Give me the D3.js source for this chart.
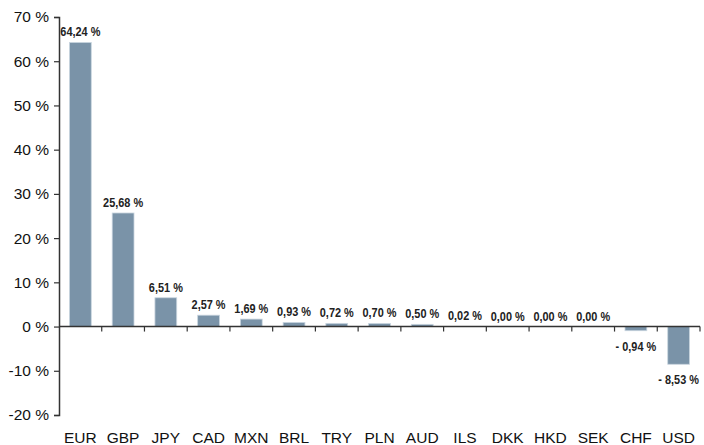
<!DOCTYPE html>
<html>
<head>
<meta charset="utf-8">
<script src="https://cdn.jsdelivr.net/npm/d3@7"></script>
<style>
  html, body { margin: 0; padding: 0; background: #fff; }
  svg { display: block; }
</style>
</head>
<body>
<svg id="chart" width="704" height="445"></svg>
<script>
// Currency contributions (%)
const currencies = ["EUR", "GBP", "JPY", "CAD", "MXN", "BRL", "TRY", "PLN", "AUD", "ILS", "DKK", "HKD", "SEK", "CHF", "USD"];
const shares = [64.24, 25.68, 6.51, 2.57, 1.69, 0.93, 0.72, 0.70, 0.50, 0.02, 0.00, 0.00, 0.00, -0.94, -8.53];
const yTicks = [-20, -10, 0, 10, 20, 30, 40, 50, 60, 70];

const svg = d3.select("#chart");
const margin = { left: 59, right: 4, top: 17, bottom: 30 };
const width = 704, height = 445;

const x = d3.scaleBand()
  .domain(currencies)
  .range([margin.left, width - margin.right])
  .paddingInner(0.49)
  .paddingOuter(0.245);

const y = d3.scaleLinear()
  .domain([-20, 70])
  .range([height - margin.bottom, margin.top]);

const fmt = v => {
  const s = Math.abs(v).toFixed(2).replace(".", ",") + " %";
  return v < 0 ? "- " + s : s;
};

const rows = currencies.map((c, i) => ({ c, v: shares[i] }));

// Bars
svg.append("g")
  .selectAll("rect")
  .data(rows)
  .join("rect")
  .attr("x", d => x(d.c))
  .attr("width", x.bandwidth())
  .attr("y", d => y(Math.max(0, d.v)))
  .attr("height", d => Math.abs(y(d.v) - y(0)))
  .attr("fill", "#7a93a8")
  .attr("stroke", "#c9d5df")
  .attr("stroke-width", 0.8);

// Value labels, horizontally condensed
svg.append("g")
  .selectAll("text")
  .data(rows)
  .join("text")
  .attr("transform", d => {
    const tx = x(d.c) + x.bandwidth() / 2;
    const ty = d.v < 0 ? y(d.v) + 20 : y(d.v) - 6;
    return `translate(${tx},${ty}) scale(0.84,1)`;
  })
  .attr("text-anchor", "middle")
  .attr("font-family", "'Liberation Sans', Arial, sans-serif")
  .attr("font-weight", "bold")
  .attr("font-size", 13)
  .attr("fill", "#222")
  .text(d => fmt(d.v));

// Y axis
const yAxis = d3.axisLeft(y)
  .tickValues(yTicks)
  .tickSize(5)
  .tickPadding(5)
  .tickFormat(d => String(d) + " %");

const gy = svg.append("g")
  .attr("transform", `translate(${margin.left},0)`)
  .call(yAxis);
gy.select(".domain").attr("stroke", "#333").attr("stroke-width", 1.5);
gy.selectAll(".tick line").attr("stroke", "#333").attr("stroke-width", 1.2);
gy.selectAll(".tick text")
  .attr("font-family", "'Liberation Sans', Arial, sans-serif")
  .attr("font-size", 15.5)
  .attr("fill", "#111");

// X axis along zero line, ticks at band boundaries
const gx = svg.append("g");
gx.append("line")
  .attr("x1", margin.left)
  .attr("x2", x.range()[1])
  .attr("y1", y(0))
  .attr("y2", y(0))
  .attr("stroke", "#333")
  .attr("stroke-width", 1.5);
const step = x.step();
gx.selectAll("line.tk")
  .data(currencies)
  .join("line")
  .attr("class", "tk")
  .attr("x1", d => x(d) - step * 0.245 + step)
  .attr("x2", d => x(d) - step * 0.245 + step)
  .attr("y1", y(0))
  .attr("y2", y(0) + 5)
  .attr("stroke", "#333")
  .attr("stroke-width", 1.2);

// Category labels at the bottom
svg.append("g")
  .selectAll("text")
  .data(currencies)
  .join("text")
  .attr("x", d => x(d) + x.bandwidth() / 2)
  .attr("y", 443)
  .attr("text-anchor", "middle")
  .attr("font-family", "'Liberation Sans', Arial, sans-serif")
  .attr("font-size", 15.5)
  .attr("fill", "#111")
  .text(d => d);
</script>
</body>
</html>
